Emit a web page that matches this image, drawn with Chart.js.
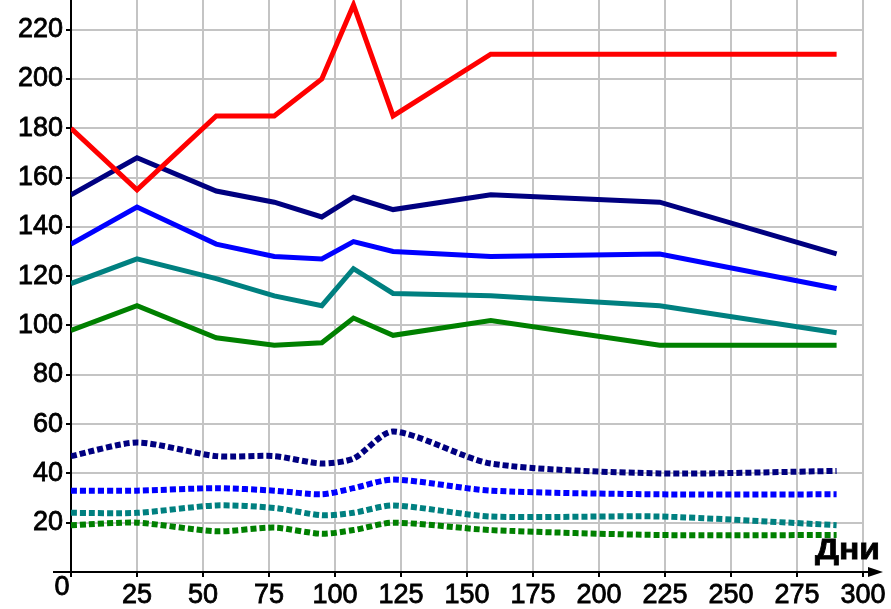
<!DOCTYPE html>
<html>
<head>
<meta charset="utf-8">
<script src="https://cdn.jsdelivr.net/npm/chart.js@4.4.0/dist/chart.umd.min.js"></script>
<style>
  html, body { margin: 0; padding: 0; background: #fff; }
  #wrap { width: 891px; height: 609px; }
</style>
</head>
<body>
<div id="wrap"><canvas id="myChart" width="891" height="609"></canvas></div>
<script>
// days where readings were taken
var days = [0, 25, 55, 77, 95, 107, 122, 159, 223, 290]

// solid lines
var redLine   = [180, 155, 185, 185, 200, 230, 185, 210, 210, 210]
var navyLine  = [153, 168, 154.5, 150, 144, 152, 147, 153, 150, 129]
var blueLine  = [133, 148, 133, 128, 127, 134, 130, 128, 129, 115]
var tealLine  = [117, 127, 119, 112, 108, 123, 113, 112, 108, 97]
var greenLine = [98, 108, 95, 92, 93, 103, 96, 102, 92, 92]

// dotted lines
var navyDots  = [47, 52.5, 47, 47, 44, 46, 57, 44, 40, 41]
var blueDots  = [33, 33, 34, 33, 31.5, 34, 37.5, 33, 31.5, 31.5]
var tealDots  = [24, 24, 27, 26, 23, 24, 27, 22.5, 22.5, 19]
var greenDots = [19, 20, 16.5, 18, 15.5, 17, 20, 17, 15, 15]

var xTicks = [0, 25, 50, 75, 100, 125, 150, 175, 200, 225, 250, 275, 300]
var yTicks = [0, 20, 40, 60, 80, 100, 120, 140, 160, 180, 200, 220]
var xTitle = "Дни"

var tickFont = { family: 'Liberation Sans', size: 27 }

function pts(vals) {
    return days.map(function (d, i) { return { x: d, y: vals[i] } })
}

function solid(vals, color) {
    return {
        data: pts(vals),
        borderColor: color,
        borderWidth: 5,
        borderJoinStyle: 'miter',
        pointRadius: 0,
        tension: 0
    }
}

function dotted(vals, color) {
    return {
        data: pts(vals),
        borderColor: color,
        borderWidth: 6,
        borderDash: [6, 3],
        borderCapStyle: 'butt',
        pointRadius: 0,
        tension: 0.25
    }
}

var axesPlugin = {
    id: 'axes',
    beforeDatasetsDraw: function (chart) {
        var ctx = chart.ctx
        var a = chart.chartArea
        ctx.save()
        ctx.strokeStyle = '#000'
        ctx.fillStyle = '#000'
        ctx.lineWidth = 2
        ctx.beginPath()
        ctx.moveTo(53, a.bottom)
        ctx.lineTo(874, a.bottom)
        ctx.moveTo(a.left, 0)
        ctx.lineTo(a.left, a.bottom + 5)
        ctx.stroke()
        ctx.beginPath()
        ctx.moveTo(883, a.bottom)
        ctx.lineTo(868, a.bottom - 5)
        ctx.lineTo(868, a.bottom + 5)
        ctx.closePath()
        ctx.fill()
        ctx.restore()
    },
    afterDraw: function (chart) {
        var ctx = chart.ctx
        ctx.save()
        ctx.fillStyle = '#000'
        ctx.strokeStyle = '#000'
        ctx.lineWidth = 0.8
        ctx.font = '27px "Liberation Sans"'
        ctx.textAlign = 'center'
        ctx.textBaseline = 'alphabetic'
        ctx.fillText('0', 62, 595)
        ctx.strokeText('0', 62, 595)
        ctx.font = 'bold 30px "Liberation Sans"'
        ctx.textAlign = 'left'
        var w = ctx.measureText(xTitle).width
        ctx.translate(815, 559)
        ctx.scale(65 / w, 1)
        ctx.fillText(xTitle, 0, 0)
        ctx.strokeText(xTitle, 0, 0)
        ctx.restore()
    }
}

var chart = new Chart(document.getElementById("myChart").getContext("2d"), {
    type: 'line',
    data: {
        datasets: [
            solid(redLine, '#ff0000'),
            solid(navyLine, '#000080'),
            solid(blueLine, '#0000ff'),
            solid(tealLine, '#008080'),
            solid(greenLine, '#008000'),
            dotted(navyDots, '#000080'),
            dotted(blueDots, '#0000ff'),
            dotted(tealDots, '#008080'),
            dotted(greenDots, '#008000')
        ]
    },
    options: {
        responsive: false,
        animation: false,
        layout: { padding: { top: 0, right: 28, left: 0, bottom: 0 } },
        plugins: { legend: { display: false }, tooltip: { enabled: false } },
        scales: {
            x: {
                type: 'linear',
                min: 0,
                max: 300,
                afterBuildTicks: function (s) { s.ticks = xTicks.map(function (v) { return { value: v } }) },
                afterFit: function (s) { s.height = 37; s.paddingLeft = 0; s.paddingRight = 0 },
                border: { display: false },
                grid: { color: '#c4c4c4', lineWidth: 2, tickColor: '#000', tickLength: 5, tickWidth: 2 },
                ticks: {
                    color: '#000',
                    textStrokeColor: '#000',
                    textStrokeWidth: 0.8,
                    padding: 2,
                    maxRotation: 0,
                    font: tickFont,
                    callback: function (v) { return v === 0 ? '' : v }
                }
            },
            y: {
                min: 0,
                max: 232,
                afterBuildTicks: function (s) { s.ticks = yTicks.map(function (v) { return { value: v } }) },
                afterFit: function (s) { s.width = 71; s.paddingTop = 0; s.paddingBottom = 0 },
                border: { display: false },
                grid: { color: '#c4c4c4', lineWidth: 2, tickColor: '#000', tickLength: 5, tickWidth: 2 },
                ticks: {
                    color: '#000',
                    textStrokeColor: '#000',
                    textStrokeWidth: 0.8,
                    padding: 3,
                    font: tickFont,
                    callback: function (v) { return v === 0 ? '' : v }
                }
            }
        }
    },
    plugins: [axesPlugin]
})
</script>
</body>
</html>
